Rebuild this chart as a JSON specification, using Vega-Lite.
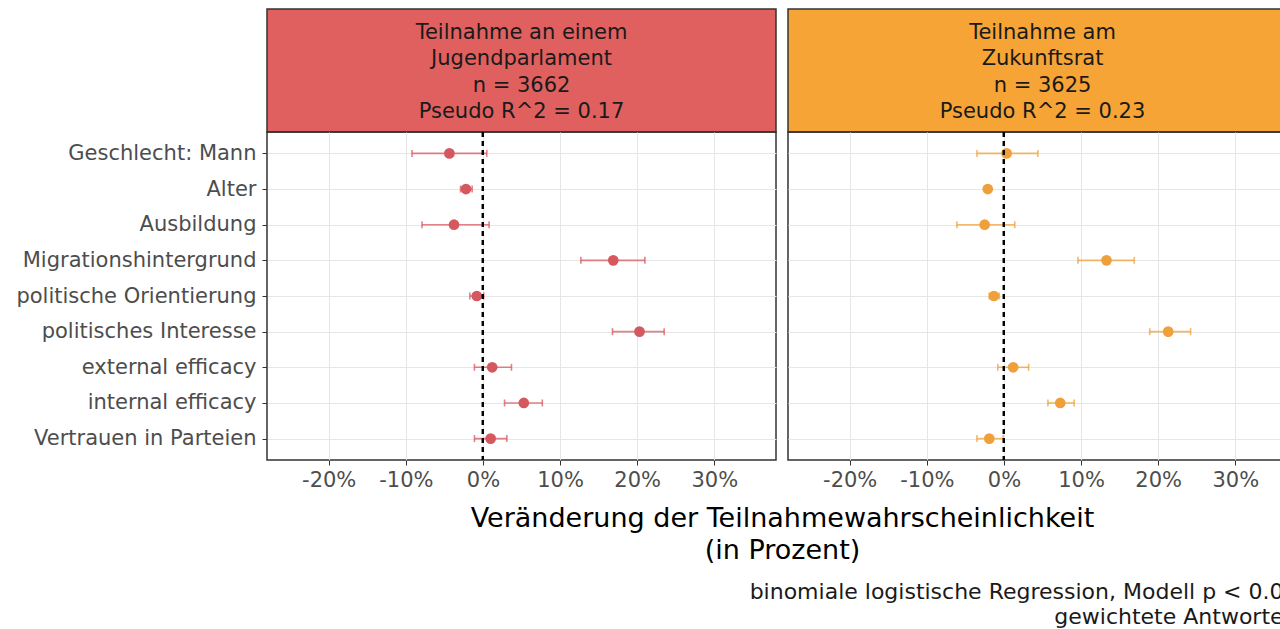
{
  "$schema": "https://vega.github.io/schema/vega-lite/v6.json",
  "padding": {"left": 15, "top": 8, "right": 0, "bottom": 0},
  "background": "white",
  "config": {
    "font": "DejaVu Sans",
    "view": {"stroke": "#333333", "strokeWidth": 1.5},
    "axis": {"domain": false, "tickColor": "#333333", "labelColor": "#4d4d4d", "labelFontSize": 21, "labelLimit": 400, "tickSize": 5, "gridColor": "#e6e6e6", "gridWidth": 1}
  },
  "datasets": {
    "coef": [
      {"panel": "JP", "var": "Geschlecht: Mann", "est": -4.35, "lo": -9.2, "hi": 0.5},
      {"panel": "JP", "var": "Alter", "est": -2.2, "lo": -2.9, "hi": -1.4},
      {"panel": "JP", "var": "Ausbildung", "est": -3.75, "lo": -7.9, "hi": 0.8},
      {"panel": "JP", "var": "Migrationshintergrund", "est": 16.9, "lo": 12.7, "hi": 21.0},
      {"panel": "JP", "var": "politische Orientierung", "est": -0.8, "lo": -1.7, "hi": 0.1},
      {"panel": "JP", "var": "politisches Interesse", "est": 20.3, "lo": 16.8, "hi": 23.5},
      {"panel": "JP", "var": "external efficacy", "est": 1.2, "lo": -1.1, "hi": 3.7},
      {"panel": "JP", "var": "internal efficacy", "est": 5.3, "lo": 2.8, "hi": 7.7},
      {"panel": "JP", "var": "Vertrauen in Parteien", "est": 1.0, "lo": -1.1, "hi": 3.1},
      {"panel": "ZR", "var": "Geschlecht: Mann", "est": 0.35, "lo": -3.5, "hi": 4.4},
      {"panel": "ZR", "var": "Alter", "est": -2.1, "lo": -2.5, "hi": -1.7},
      {"panel": "ZR", "var": "Ausbildung", "est": -2.5, "lo": -6.1, "hi": 1.4},
      {"panel": "ZR", "var": "Migrationshintergrund", "est": 13.3, "lo": 9.6, "hi": 16.9},
      {"panel": "ZR", "var": "politische Orientierung", "est": -1.3, "lo": -1.9, "hi": -0.6},
      {"panel": "ZR", "var": "politisches Interesse", "est": 21.3, "lo": 18.9, "hi": 24.2},
      {"panel": "ZR", "var": "external efficacy", "est": 1.2, "lo": -0.8, "hi": 3.2},
      {"panel": "ZR", "var": "internal efficacy", "est": 7.3, "lo": 5.7, "hi": 9.1},
      {"panel": "ZR", "var": "Vertrauen in Parteien", "est": -1.9, "lo": -3.5, "hi": -0.1}
    ],
    "strips": [
      {"panel": "JP", "label": "Teilnahme an einem\nJugendparlament\nn = 3662\nPseudo R^2 = 0.17"},
      {"panel": "ZR", "label": "Teilnahme am\nZukunftsrat\nn = 3625\nPseudo R^2 = 0.23"}
    ]
  },
  "columns": 2,
  "spacing": {"row": 0, "column": 12},
  "bounds": "flush",
  "concat": [
    {
      "width": 509, "height": 123,
      "data": {"name": "strips"},
      "transform": [{"filter": "datum.panel === 'JP'"}],
      "view": {"fill": "#E0605F", "stroke": "#333333", "strokeWidth": 1.5},
      "mark": {"type": "text", "fontSize": 21, "lineHeight": 26.3, "lineBreak": "\n", "baseline": "middle", "align": "center", "color": "#1a1a1a", "dy": -37.5},
      "encoding": {"text": {"field": "label", "type": "nominal"}}
    },
    {
      "width": 509, "height": 123,
      "data": {"name": "strips"},
      "transform": [{"filter": "datum.panel === 'ZR'"}],
      "view": {"fill": "#F6A436", "stroke": "#333333", "strokeWidth": 1.5},
      "mark": {"type": "text", "fontSize": 21, "lineHeight": 26.3, "lineBreak": "\n", "baseline": "middle", "align": "center", "color": "#1a1a1a", "dy": -37.5},
      "encoding": {"text": {"field": "label", "type": "nominal"}}
    },
    {
      "width": 509, "height": 328,
      "data": {"name": "coef"},
      "transform": [{"filter": "datum.panel === 'JP'"}],
      "layer": [
        {
          "mark": {"type": "rule", "strokeWidth": 1.6, "opacity": 0.75},
          "encoding": {
            "x": {"field": "lo", "type": "quantitative", "scale": {"domain": [-28, 38], "nice": false, "zero": false}, "axis": {"values": [-20, -10, 0, 10, 20, 30], "labelExpr": "datum.value + '%'", "labelPadding": 4, "grid": true, "title": ["Veränderung der Teilnahmewahrscheinlichkeit", "(in Prozent)"], "titleX": 515, "titleY": 58, "titleAlign": "center", "titleBaseline": "middle", "titleFontSize": 27, "titleLineHeight": 32, "titleFontWeight": "normal", "titleColor": "#000000"}},
            "x2": {"field": "hi"},
            "y": {"field": "var", "type": "nominal", "sort": ["Geschlecht: Mann", "Alter", "Ausbildung", "Migrationshintergrund", "politische Orientierung", "politisches Interesse", "external efficacy", "internal efficacy", "Vertrauen in Parteien"], "scale": {"type": "point", "padding": 0.6}, "axis": {"title": null, "labelPadding": 6, "grid": true}},
            "color": {"field": "panel", "type": "nominal", "scale": {"domain": ["JP", "ZR"], "range": ["#D6585F", "#EFA03A"]}, "legend": null}
          }
        },
        {
          "mark": {"type": "tick", "thickness": 1.6, "size": 7, "opacity": 0.75},
          "encoding": {
            "x": {"field": "lo", "type": "quantitative", "scale": {"domain": [-28, 38], "nice": false, "zero": false}, "axis": {"values": [-20, -10, 0, 10, 20, 30], "labelExpr": "datum.value + '%'", "labelPadding": 4, "grid": true, "title": ["Veränderung der Teilnahmewahrscheinlichkeit", "(in Prozent)"], "titleX": 515, "titleY": 58, "titleAlign": "center", "titleBaseline": "middle", "titleFontSize": 27, "titleLineHeight": 32, "titleFontWeight": "normal", "titleColor": "#000000"}},
            "y": {"field": "var", "type": "nominal", "sort": ["Geschlecht: Mann", "Alter", "Ausbildung", "Migrationshintergrund", "politische Orientierung", "politisches Interesse", "external efficacy", "internal efficacy", "Vertrauen in Parteien"], "scale": {"type": "point", "padding": 0.6}, "axis": {"title": null, "labelPadding": 6, "grid": true}},
            "color": {"field": "panel", "type": "nominal", "scale": {"domain": ["JP", "ZR"], "range": ["#D6585F", "#EFA03A"]}, "legend": null}
          }
        },
        {
          "mark": {"type": "tick", "thickness": 1.6, "size": 7, "opacity": 0.75},
          "encoding": {
            "x": {"field": "hi", "type": "quantitative", "scale": {"domain": [-28, 38], "nice": false, "zero": false}, "axis": {"values": [-20, -10, 0, 10, 20, 30], "labelExpr": "datum.value + '%'", "labelPadding": 4, "grid": true, "title": ["Veränderung der Teilnahmewahrscheinlichkeit", "(in Prozent)"], "titleX": 515, "titleY": 58, "titleAlign": "center", "titleBaseline": "middle", "titleFontSize": 27, "titleLineHeight": 32, "titleFontWeight": "normal", "titleColor": "#000000"}},
            "y": {"field": "var", "type": "nominal", "sort": ["Geschlecht: Mann", "Alter", "Ausbildung", "Migrationshintergrund", "politische Orientierung", "politisches Interesse", "external efficacy", "internal efficacy", "Vertrauen in Parteien"], "scale": {"type": "point", "padding": 0.6}, "axis": {"title": null, "labelPadding": 6, "grid": true}},
            "color": {"field": "panel", "type": "nominal", "scale": {"domain": ["JP", "ZR"], "range": ["#D6585F", "#EFA03A"]}, "legend": null}
          }
        },
        {
          "mark": {"type": "circle", "size": 115, "opacity": 1},
          "encoding": {
            "x": {"field": "est", "type": "quantitative", "scale": {"domain": [-28, 38], "nice": false, "zero": false}, "axis": {"values": [-20, -10, 0, 10, 20, 30], "labelExpr": "datum.value + '%'", "labelPadding": 4, "grid": true, "title": ["Veränderung der Teilnahmewahrscheinlichkeit", "(in Prozent)"], "titleX": 515, "titleY": 58, "titleAlign": "center", "titleBaseline": "middle", "titleFontSize": 27, "titleLineHeight": 32, "titleFontWeight": "normal", "titleColor": "#000000"}},
            "y": {"field": "var", "type": "nominal", "sort": ["Geschlecht: Mann", "Alter", "Ausbildung", "Migrationshintergrund", "politische Orientierung", "politisches Interesse", "external efficacy", "internal efficacy", "Vertrauen in Parteien"], "scale": {"type": "point", "padding": 0.6}, "axis": {"title": null, "labelPadding": 6, "grid": true}},
            "color": {"field": "panel", "type": "nominal", "scale": {"domain": ["JP", "ZR"], "range": ["#D6585F", "#EFA03A"]}, "legend": null}
          }
        },
        {
          "mark": {"type": "rule", "strokeDash": [5, 4], "strokeWidth": 2, "color": "#000000"},
          "encoding": {
            "x": {"datum": 0, "type": "quantitative", "scale": {"domain": [-28, 38], "nice": false, "zero": false}, "axis": {"values": [-20, -10, 0, 10, 20, 30], "labelExpr": "datum.value + '%'", "labelPadding": 4, "grid": true, "title": ["Veränderung der Teilnahmewahrscheinlichkeit", "(in Prozent)"], "titleX": 515, "titleY": 58, "titleAlign": "center", "titleBaseline": "middle", "titleFontSize": 27, "titleLineHeight": 32, "titleFontWeight": "normal", "titleColor": "#000000"}}
          }
        }
      ]
    },
    {
      "width": 509, "height": 328,
      "data": {"name": "coef"},
      "transform": [{"filter": "datum.panel === 'ZR'"}],
      "layer": [
        {
          "mark": {"type": "rule", "strokeWidth": 1.6, "opacity": 0.75},
          "encoding": {
            "x": {"field": "lo", "type": "quantitative", "scale": {"domain": [-28, 38], "nice": false, "zero": false}, "axis": {"values": [-20, -10, 0, 10, 20, 30], "labelExpr": "datum.value + '%'", "labelPadding": 4, "grid": true, "title": ["binomiale logistische Regression, Modell p < 0.05", "gewichtete Antworten"], "titleX": 509, "titleY": 131, "titleAlign": "right", "titleBaseline": "middle", "titleFontSize": 22, "titleLineHeight": 25, "titleFontWeight": "normal", "titleColor": "#1a1a1a"}},
            "x2": {"field": "hi"},
            "y": {"field": "var", "type": "nominal", "sort": ["Geschlecht: Mann", "Alter", "Ausbildung", "Migrationshintergrund", "politische Orientierung", "politisches Interesse", "external efficacy", "internal efficacy", "Vertrauen in Parteien"], "scale": {"type": "point", "padding": 0.6}, "axis": {"title": null, "labels": false, "ticks": false, "grid": true, "minExtent": 0}},
            "color": {"field": "panel", "type": "nominal", "scale": {"domain": ["JP", "ZR"], "range": ["#D6585F", "#EFA03A"]}, "legend": null}
          }
        },
        {
          "mark": {"type": "tick", "thickness": 1.6, "size": 7, "opacity": 0.75},
          "encoding": {
            "x": {"field": "lo", "type": "quantitative", "scale": {"domain": [-28, 38], "nice": false, "zero": false}, "axis": {"values": [-20, -10, 0, 10, 20, 30], "labelExpr": "datum.value + '%'", "labelPadding": 4, "grid": true, "title": ["binomiale logistische Regression, Modell p < 0.05", "gewichtete Antworten"], "titleX": 509, "titleY": 131, "titleAlign": "right", "titleBaseline": "middle", "titleFontSize": 22, "titleLineHeight": 25, "titleFontWeight": "normal", "titleColor": "#1a1a1a"}},
            "y": {"field": "var", "type": "nominal", "sort": ["Geschlecht: Mann", "Alter", "Ausbildung", "Migrationshintergrund", "politische Orientierung", "politisches Interesse", "external efficacy", "internal efficacy", "Vertrauen in Parteien"], "scale": {"type": "point", "padding": 0.6}, "axis": {"title": null, "labels": false, "ticks": false, "grid": true, "minExtent": 0}},
            "color": {"field": "panel", "type": "nominal", "scale": {"domain": ["JP", "ZR"], "range": ["#D6585F", "#EFA03A"]}, "legend": null}
          }
        },
        {
          "mark": {"type": "tick", "thickness": 1.6, "size": 7, "opacity": 0.75},
          "encoding": {
            "x": {"field": "hi", "type": "quantitative", "scale": {"domain": [-28, 38], "nice": false, "zero": false}, "axis": {"values": [-20, -10, 0, 10, 20, 30], "labelExpr": "datum.value + '%'", "labelPadding": 4, "grid": true, "title": ["binomiale logistische Regression, Modell p < 0.05", "gewichtete Antworten"], "titleX": 509, "titleY": 131, "titleAlign": "right", "titleBaseline": "middle", "titleFontSize": 22, "titleLineHeight": 25, "titleFontWeight": "normal", "titleColor": "#1a1a1a"}},
            "y": {"field": "var", "type": "nominal", "sort": ["Geschlecht: Mann", "Alter", "Ausbildung", "Migrationshintergrund", "politische Orientierung", "politisches Interesse", "external efficacy", "internal efficacy", "Vertrauen in Parteien"], "scale": {"type": "point", "padding": 0.6}, "axis": {"title": null, "labels": false, "ticks": false, "grid": true, "minExtent": 0}},
            "color": {"field": "panel", "type": "nominal", "scale": {"domain": ["JP", "ZR"], "range": ["#D6585F", "#EFA03A"]}, "legend": null}
          }
        },
        {
          "mark": {"type": "circle", "size": 115, "opacity": 1},
          "encoding": {
            "x": {"field": "est", "type": "quantitative", "scale": {"domain": [-28, 38], "nice": false, "zero": false}, "axis": {"values": [-20, -10, 0, 10, 20, 30], "labelExpr": "datum.value + '%'", "labelPadding": 4, "grid": true, "title": ["binomiale logistische Regression, Modell p < 0.05", "gewichtete Antworten"], "titleX": 509, "titleY": 131, "titleAlign": "right", "titleBaseline": "middle", "titleFontSize": 22, "titleLineHeight": 25, "titleFontWeight": "normal", "titleColor": "#1a1a1a"}},
            "y": {"field": "var", "type": "nominal", "sort": ["Geschlecht: Mann", "Alter", "Ausbildung", "Migrationshintergrund", "politische Orientierung", "politisches Interesse", "external efficacy", "internal efficacy", "Vertrauen in Parteien"], "scale": {"type": "point", "padding": 0.6}, "axis": {"title": null, "labels": false, "ticks": false, "grid": true, "minExtent": 0}},
            "color": {"field": "panel", "type": "nominal", "scale": {"domain": ["JP", "ZR"], "range": ["#D6585F", "#EFA03A"]}, "legend": null}
          }
        },
        {
          "mark": {"type": "rule", "strokeDash": [5, 4], "strokeWidth": 2, "color": "#000000"},
          "encoding": {
            "x": {"datum": 0, "type": "quantitative", "scale": {"domain": [-28, 38], "nice": false, "zero": false}, "axis": {"values": [-20, -10, 0, 10, 20, 30], "labelExpr": "datum.value + '%'", "labelPadding": 4, "grid": true, "title": ["binomiale logistische Regression, Modell p < 0.05", "gewichtete Antworten"], "titleX": 509, "titleY": 131, "titleAlign": "right", "titleBaseline": "middle", "titleFontSize": 22, "titleLineHeight": 25, "titleFontWeight": "normal", "titleColor": "#1a1a1a"}}
          }
        }
      ]
    }
  ]
}
